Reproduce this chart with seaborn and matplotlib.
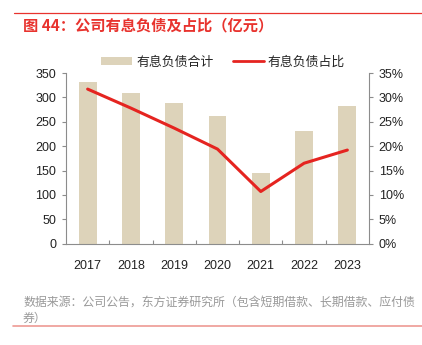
import matplotlib
matplotlib.use("Agg")
import matplotlib.pyplot as plt
import seaborn as sns
import pandas as pd
import numpy as np
from matplotlib.lines import Line2D
from matplotlib.patches import Patch
from matplotlib.ticker import FixedLocator

years = ["2017", "2018", "2019", "2020", "2021", "2022", "2023"]
debt_total = [331, 310, 288, 261, 145, 232, 282]
debt_ratio = [31.7, 27.8, 23.7, 19.4, 10.7, 16.5, 19.2]
left_ticks = [0, 50, 100, 150, 200, 250, 300, 350]
right_ticks = [0, 5, 10, 15, 20, 25, 30, 35]

title = "图 44：公司有息负债及占比（亿元）"
bar_label = "有息负债合计"
line_label = "有息负债占比"
source = "数据来源：公司公告，东方证券研究所（包含短期借款、长期借款、应付债\n券）"

BAR_C = "#DDD3BA"
LINE_C = "#E52420"
TXT = "#222222"

sns.set_theme(style="white")
plt.rcParams["font.family"] = ["Liberation Sans", "Noto Sans CJK SC", "DejaVu Sans"]

df = pd.DataFrame({"year": years, "total": debt_total, "ratio": debt_ratio})

fig = plt.figure(figsize=(4.22, 3.45), dpi=100)
ax = fig.add_axes([66/422, 1-243.7/345, (369-66)/422, (243.7-73)/345])

sns.barplot(data=df, x="year", y="total", color=BAR_C, width=0.41, ax=ax,
            saturation=1, edgecolor="none")
ax.set_ylim(0, 350)
ax.set_xlim(-0.5, 6.5)
ax.set_yticks(left_ticks)
ax.set_xlabel("")
ax.set_ylabel("")

ax2 = ax.twinx()
sns.pointplot(data=df, x="year", y="ratio", color=LINE_C, ax=ax2,
              markers="", linewidth=2.2, errorbar=None)
ax2.set_ylim(0, 35)
ax2.set_xlim(-0.5, 6.5)
ax2.set_yticks(right_ticks)
ax2.set_yticklabels([f"{t}%" for t in right_ticks])
ax2.set_xlabel("")
ax2.set_ylabel("")

for a in (ax, ax2):
    for s in a.spines.values():
        s.set_visible(False)
ax.spines["left"].set_visible(True)
ax.spines["bottom"].set_visible(True)
ax2.spines["right"].set_visible(True)
for s in (ax.spines["left"], ax.spines["bottom"], ax2.spines["right"]):
    s.set_color("#8c8c8c")
    s.set_linewidth(0.8)

ax.tick_params(axis="y", which="major", left=True, length=3, width=0.8,
               color="#8c8c8c", labelsize=9, labelcolor=TXT, pad=4)
ax.tick_params(axis="x", which="major", bottom=False, labelsize=9,
               labelcolor=TXT, pad=6)
ax.xaxis.set_minor_locator(FixedLocator([0.5, 1.5, 2.5, 3.5, 4.5, 5.5]))
ax.tick_params(axis="x", which="minor", bottom=True, direction="in",
               length=3, width=0.8, color="#8c8c8c")
ax2.tick_params(axis="y", which="major", right=True, length=3, width=0.8,
                color="#8c8c8c", labelsize=9, labelcolor=TXT, pad=4)

handles = [Patch(facecolor=BAR_C, edgecolor="none", label=bar_label),
           Line2D([0], [0], color=LINE_C, lw=2, label=line_label)]
fig.legend(handles=handles, loc="center", bbox_to_anchor=(223/422, 1-62/345),
           ncol=2, frameon=False, handlelength=2.4,
           handleheight=0.6, columnspacing=1.5, handletextpad=0.3,
           prop={"family": ["Noto Sans CJK SC"], "size": 9.3})

# header / footer
fig.add_artist(Line2D([14/422, 1], [1-13.3/345]*2, color="#E8332E", lw=0.9))
fig.text(23/422, 1-25/345, title, color="#E8332E", fontsize=11, fontweight="bold",
         va="center", ha="left", family=["Noto Sans CJK SC"])
fig.text(23/422, 1-310/345, source, color="#999999", fontsize=8.6,
         va="center", ha="left", family=["Noto Sans CJK SC"], linespacing=1.35)
fig.add_artist(Line2D([13/422, 1], [1-325.5/345]*2, color="#EE9A94", lw=1.2))

fig.savefig("out.png", dpi=100)
